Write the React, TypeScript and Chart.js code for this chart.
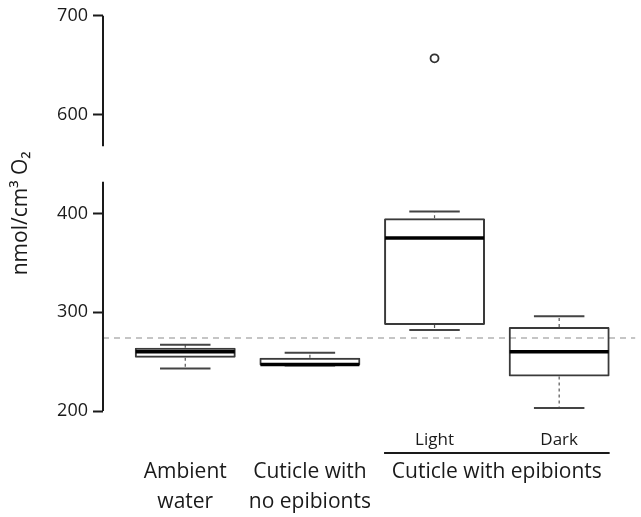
import React, { useEffect, useRef } from 'react';
import { Chart, registerables } from 'chart.js';

Chart.register(...registerables);

// ---- data ----
const categories = ['Ambient water', 'Cuticle with no epibionts', 'Light', 'Dark'];
const whiskerLow = [243, 246, 282, 203];
const q1 = [254, 246, 287, 235];
const median = [260, 247, 375, 260];
const q3 = [264, 254, 395, 285];
const whiskerHigh = [267, 259, 402, 296];
const outlierGroup = [3];
const outlierValue = [657];
const referenceValue = 274;
const yTickValues = [200, 300, 400, 600, 700];
const xLabelLines = [['Ambient', 'water'], ['Cuticle with', 'no epibionts']];
const subLabels = ['Light', 'Dark'];
const groupLabel = 'Cuticle with epibionts';
const yTitle = 'nmol/cm\u00B3 O\u2082';

// broken axis: values above the gap are shifted down by breakShift
const breakShift = 100;
const lowerSegmentTop = 432; // real value where lower axis segment ends
const upperSegmentBottom = 568; // real value where upper axis segment starts
const toAxis = (v: number) => (v > 500 ? v - breakShift : v);
const fromAxis = (v: number) => (v > 450 ? v + breakShift : v);

const FONT = "'Open Sans', sans-serif";
const INK = '#1a1a1a';

const boxPlugin = {
  id: 'boxExtras',
  beforeDatasetsDraw(chart: any) {
    const { ctx, scales, chartArea } = chart;
    const y = scales.y;
    const yr = y.getPixelForValue(referenceValue);
    ctx.save();
    ctx.strokeStyle = '#b3b3b3';
    ctx.lineWidth = 1.5;
    ctx.setLineDash([6, 5]);
    ctx.beginPath();
    ctx.moveTo(chartArea.left, yr);
    ctx.lineTo(chartArea.right, yr);
    ctx.stroke();
    ctx.restore();
  },
  afterDatasetsDraw(chart: any) {
    const { ctx, scales } = chart;
    const y = scales.y;
    const meta = chart.getDatasetMeta(0);
    ctx.save();
    categories.forEach((_, i) => {
      const bar: any = meta.data[i];
      const cx = bar.x;
      const w = bar.width;
      const pQ1 = y.getPixelForValue(q1[i]);
      const pQ3 = y.getPixelForValue(q3[i]);
      const pLo = y.getPixelForValue(whiskerLow[i]);
      const pHi = y.getPixelForValue(whiskerHigh[i]);
      const pMed = y.getPixelForValue(median[i]);
      // dashed connectors
      ctx.strokeStyle = '#555';
      ctx.lineWidth = 1.2;
      ctx.setLineDash([3, 3]);
      ctx.beginPath();
      if (whiskerHigh[i] > q3[i]) {
        ctx.moveTo(cx, pQ3);
        ctx.lineTo(cx, pHi);
      }
      if (whiskerLow[i] < q1[i]) {
        ctx.moveTo(cx, pQ1);
        ctx.lineTo(cx, pLo);
      }
      ctx.stroke();
      // whisker caps
      ctx.setLineDash([]);
      ctx.strokeStyle = '#444';
      ctx.lineWidth = 2;
      ctx.beginPath();
      ctx.moveTo(cx - w / 4, pHi);
      ctx.lineTo(cx + w / 4, pHi);
      ctx.moveTo(cx - w / 4, pLo);
      ctx.lineTo(cx + w / 4, pLo);
      ctx.stroke();
      // median
      ctx.strokeStyle = '#000';
      ctx.lineWidth = 3.5;
      ctx.beginPath();
      ctx.moveTo(cx - w / 2 + 1, pMed);
      ctx.lineTo(cx + w / 2 - 1, pMed);
      ctx.stroke();
    });
    ctx.restore();
  },
  afterDraw(chart: any) {
    const { ctx, scales, chartArea } = chart;
    const x = scales.x;
    const y = scales.y;
    const meta = chart.getDatasetMeta(0);
    ctx.save();
    // broken y axis line
    ctx.strokeStyle = INK;
    ctx.lineWidth = 2;
    ctx.beginPath();
    const ax = chartArea.left;
    ctx.moveTo(ax, y.getPixelForValue(200));
    ctx.lineTo(ax, y.getPixelForValue(lowerSegmentTop));
    ctx.moveTo(ax, y.getPixelForValue(toAxis(upperSegmentBottom)));
    ctx.lineTo(ax, y.getPixelForValue(toAxis(700)));
    ctx.stroke();

    // x labels
    ctx.fillStyle = INK;
    ctx.textAlign = 'center';
    ctx.textBaseline = 'middle';
    ctx.font = `21px ${FONT}`;
    xLabelLines.forEach((lines, i) => {
      const px = x.getPixelForValue(i + 1);
      lines.forEach((t, j) => ctx.fillText(t, px, 472 + j * 30));
    });
    ctx.font = `17px ${FONT}`;
    subLabels.forEach((t, k) => {
      ctx.fillText(t, x.getPixelForValue(k + 3), 440);
    });
    const b3: any = meta.data[2];
    const b4: any = meta.data[3];
    ctx.lineWidth = 2;
    ctx.beginPath();
    ctx.moveTo(b3.x - b3.width / 2, 453);
    ctx.lineTo(b4.x + b4.width / 2, 453);
    ctx.stroke();
    ctx.font = `21px ${FONT}`;
    ctx.fillText(groupLabel, (x.getPixelForValue(3) + x.getPixelForValue(4)) / 2, 472);
    ctx.restore();
  },
};

export default function App() {
  const ref = useRef<HTMLCanvasElement | null>(null);
  useEffect(() => {
    if (!ref.current) return;
    const chart = new Chart(ref.current, {
      type: 'bar',
      data: {
        datasets: [
          {
            type: 'bar',
            data: categories.map((_, i) => ({ x: i + 1, y: [q1[i], q3[i]] })) as any,
            backgroundColor: 'rgba(255,255,255,0)',
            borderColor: '#3a3a3a',
            borderWidth: 2,
            borderSkipped: false,
            borderRadius: 1,
            barPercentage: 0.81,
            categoryPercentage: 1,
          },
          {
            type: 'scatter',
            data: outlierGroup.map((g, i) => ({ x: g, y: toAxis(outlierValue[i]) })),
            pointStyle: 'circle',
            pointRadius: 4,
            borderColor: '#333',
            borderWidth: 1.8,
            backgroundColor: 'rgba(255,255,255,0)',
          } as any,
        ],
      },
      options: {
        animation: false,
        responsive: true,
        maintainAspectRatio: false,
        layout: { padding: { top: 15, bottom: 106, right: 3, left: 0 } },
        plugins: { legend: { display: false }, tooltip: { enabled: false } },
        scales: {
          x: {
            type: 'linear',
            display: false,
            min: 0.34,
            max: 4.61,
            offset: false,
            afterBuildTicks: (s: any) => {
              s.ticks = categories.map((_, i) => ({ value: i + 1 }));
            },
          },
          y: {
            type: 'linear',
            min: 200,
            max: 600,
            afterFit: (s: any) => {
              s.width = 103;
            },
            afterBuildTicks: (s: any) => {
              s.ticks = yTickValues.map((v) => ({ value: toAxis(v) }));
            },
            ticks: {
              callback: (v: any) => String(fromAxis(Number(v))),
              font: { family: FONT, size: 18 },
              color: INK,
              padding: 5,
            },
            grid: {
              drawOnChartArea: false,
              drawTicks: true,
              tickLength: 10,
              tickColor: INK,
              tickWidth: 2,
            },
            border: { display: false },
            title: {
              display: true,
              text: yTitle,
              font: { family: FONT, size: 21 },
              color: INK,
              padding: { top: 8, bottom: 0 },
            },
          },
        },
      },
      plugins: [boxPlugin],
    });
    return () => chart.destroy();
  }, []);
  return (
    <div style={{ position: 'absolute', left: 0, top: 0, width: 641, height: 517 }}>
      <canvas ref={ref} />
    </div>
  );
}
